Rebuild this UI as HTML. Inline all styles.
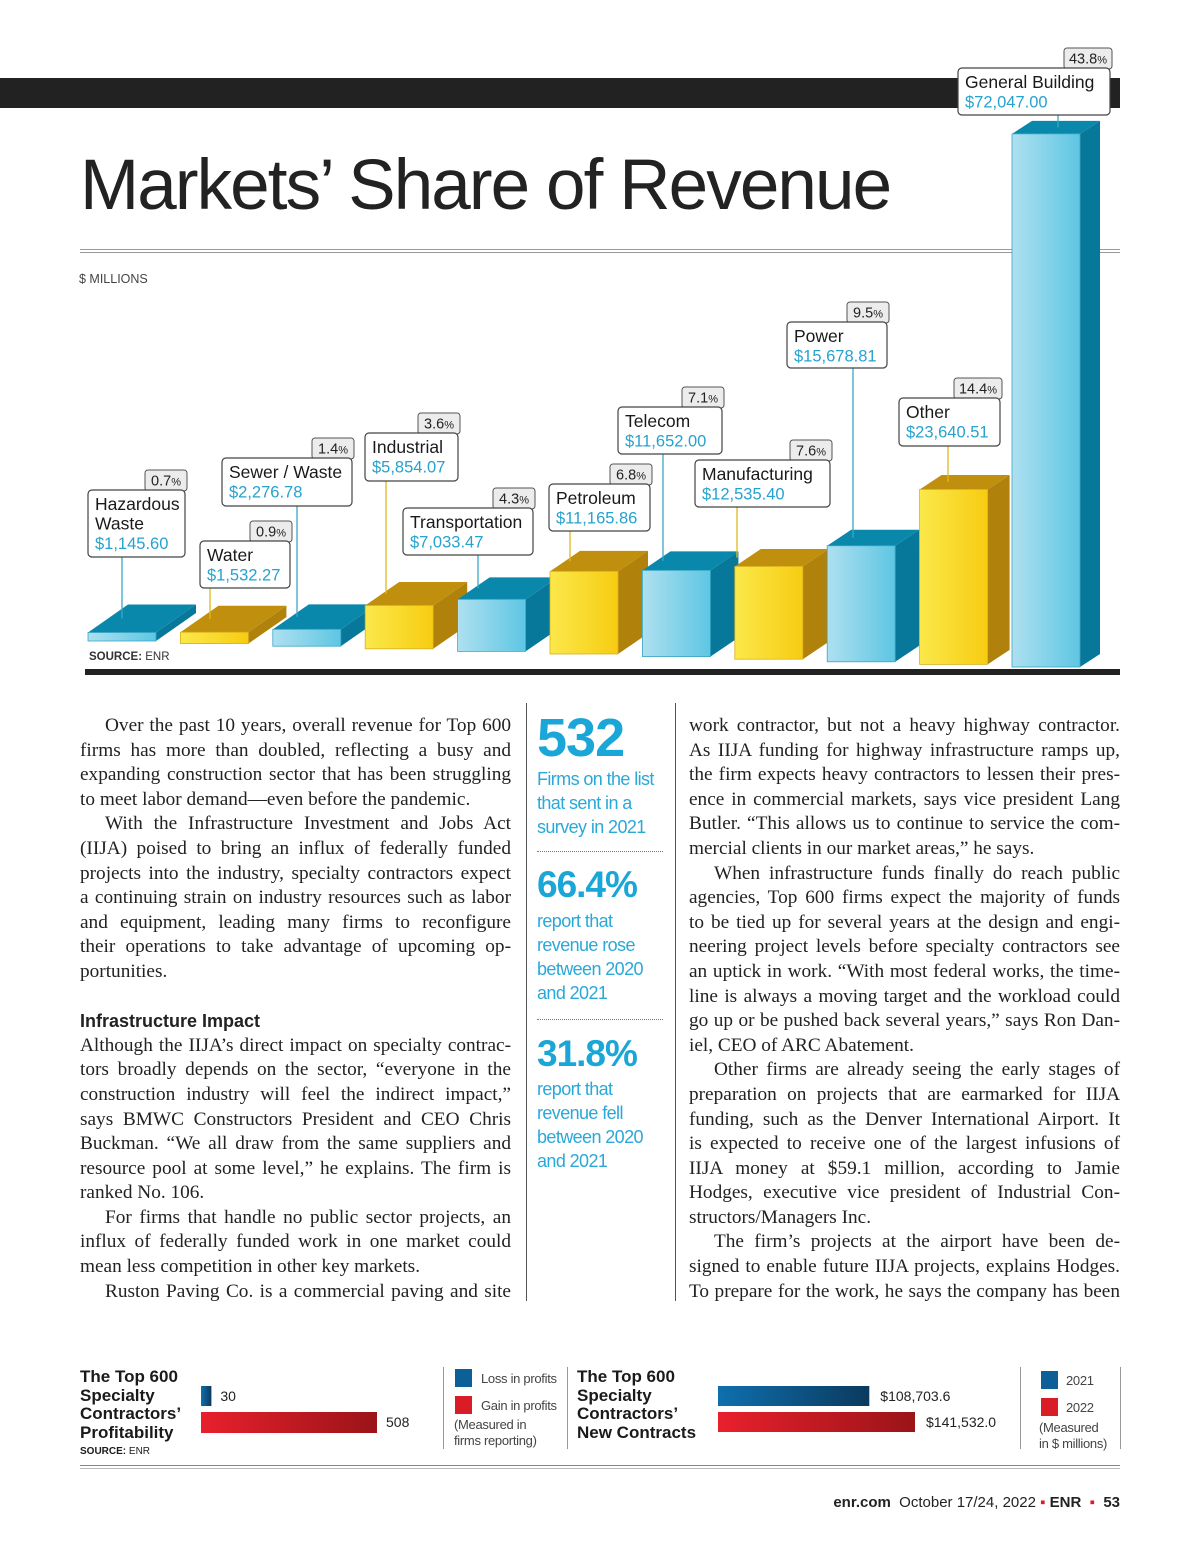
<!DOCTYPE html>
<html><head><meta charset="utf-8">
<style>
body{margin:0;background:#fff;}
#page{position:relative;width:1200px;height:1551px;overflow:hidden;background:#fff;font-family:"Liberation Sans",sans-serif;color:#1a1a1a;}
.abs{position:absolute;}
.col{position:absolute;font-family:"Liberation Serif",serif;font-size:19.3px;line-height:24.6px;color:#222;}
.col div{text-align:justify;text-align-last:justify;white-space:nowrap;}
.col div.l{text-align-last:left;}
.col div.i{text-indent:25px;}
.stat{position:absolute;left:537px;color:#1aa6d6;}
.big{font-weight:bold;letter-spacing:-1px;}
.sm{font-size:18px;line-height:24px;color:#2aa8d8;letter-spacing:-0.6px;}
.dot{position:absolute;left:537px;width:126px;border-top:1px dotted #777;}
.bt{font-weight:bold;font-size:17px;line-height:18.5px;}
.lg{font-size:13px;color:#444;line-height:16px;letter-spacing:-0.3px;}
</style></head><body>
<div id="page">
<div class="abs" style="left:0;top:78px;width:1120px;height:30px;background:#222;"></div>
<div class="abs" style="left:80px;top:146px;font-size:71px;letter-spacing:-1.9px;color:#222;line-height:80px;white-space:nowrap;">Markets’ Share of Revenue</div>
<div class="abs" style="left:80px;top:249px;width:1040px;height:2px;border-top:1px solid #999;border-bottom:1px solid #999;"></div>
<div class="abs" style="left:79px;top:272px;font-size:12.5px;color:#444;">$ MILLIONS</div>
<div class="abs" style="left:89px;top:651px;font-size:11.5px;color:#333;"><b>SOURCE:</b> ENR</div>
<div class="abs" style="left:85px;top:669px;width:1035px;height:6px;background:#222;"></div>

<svg id="chart" class="abs" style="left:0;top:0" width="1200" height="700">
<defs>
<linearGradient id="gb" x1="0" x2="1"><stop offset="0" stop-color="#aee0f0"/><stop offset="1" stop-color="#5ec6e3"/></linearGradient>
<linearGradient id="gy" x1="0" x2="1"><stop offset="0" stop-color="#fbe84a"/><stop offset="1" stop-color="#f7cc12"/></linearGradient>
</defs>
</svg>

<div class="col" style="left:80px;top:714px;width:431px;">
<div class="i">Over the past 10 years, overall revenue for Top 600</div>
<div>firms has more than doubled, reflecting a busy and</div>
<div>expanding construction sector that has been struggling</div>
<div class="l">to meet labor demand—even before the pandemic.</div>
<div class="i">With the Infrastructure Investment and Jobs Act</div>
<div>(IIJA) poised to bring an influx of federally funded</div>
<div>projects into the industry, specialty contractors expect</div>
<div>a continuing strain on industry resources such as labor</div>
<div>and equipment, leading many firms to reconfigure</div>
<div>their operations to take advantage of upcoming op-</div>
<div class="l">portunities.</div>
<div class="l">&nbsp;</div>
<div class="l" style="font-family:'Liberation Sans',sans-serif;font-weight:bold;font-size:18px;">Infrastructure Impact</div>
<div>Although the IIJA’s direct impact on specialty contrac-</div>
<div>tors broadly depends on the sector, “everyone in the</div>
<div>construction industry will feel the indirect impact,”</div>
<div>says BMWC Constructors President and CEO Chris</div>
<div>Buckman. “We all draw from the same suppliers and</div>
<div>resource pool at some level,” he explains. The firm is</div>
<div class="l">ranked No. 106.</div>
<div class="i">For firms that handle no public sector projects, an</div>
<div>influx of federally funded work in one market could</div>
<div class="l">mean less competition in other key markets.</div>
<div class="i">Ruston Paving Co. is a commercial paving and site</div>
</div>
<div class="col" style="left:689px;top:714px;width:431px;">
<div>work contractor, but not a heavy highway contractor.</div>
<div>As IIJA funding for highway infrastructure ramps up,</div>
<div>the firm expects heavy contractors to lessen their pres-</div>
<div>ence in commercial markets, says vice president Lang</div>
<div>Butler. “This allows us to continue to service the com-</div>
<div class="l">mercial clients in our market areas,” he says.</div>
<div class="i">When infrastructure funds finally do reach public</div>
<div>agencies, Top 600 firms expect the majority of funds</div>
<div>to be tied up for several years at the design and engi-</div>
<div>neering project levels before specialty contractors see</div>
<div>an uptick in work. “With most federal works, the time-</div>
<div>line is always a moving target and the workload could</div>
<div>go up or be pushed back several years,” says Ron Dan-</div>
<div class="l">iel, CEO of ARC Abatement.</div>
<div class="i">Other firms are already seeing the early stages of</div>
<div>preparation on projects that are earmarked for IIJA</div>
<div>funding, such as the Denver International Airport. It</div>
<div>is expected to receive one of the largest infusions of</div>
<div>IIJA money at $59.1 million, according to Jamie</div>
<div>Hodges, executive vice president of Industrial Con-</div>
<div class="l">structors/Managers Inc.</div>
<div class="i">The firm’s projects at the airport have been de-</div>
<div>signed to enable future IIJA projects, explains Hodges.</div>
<div>To prepare for the work, he says the company has been</div>
</div>
<div class="abs" style="left:526px;top:703px;width:1px;height:598px;background:#555;"></div>
<div class="abs" style="left:675px;top:703px;width:1px;height:598px;background:#555;"></div>

<div class="stat big" style="top:708px;font-size:54px;line-height:60px;">532</div>
<div class="stat sm" style="top:767px;">Firms on the list<br>that sent in a<br>survey in 2021</div>
<div class="dot" style="top:851px"></div>
<div class="stat big" style="top:862px;font-size:37px;line-height:46px;">66.4%</div>
<div class="stat sm" style="top:909px;">report that<br>revenue rose<br>between 2020<br>and 2021</div>
<div class="dot" style="top:1019px"></div>
<div class="stat big" style="top:1031px;font-size:37px;line-height:46px;">31.8%</div>
<div class="stat sm" style="top:1077px;">report that<br>revenue fell<br>between 2020<br>and 2021</div>

<div class="abs bt" style="left:80px;top:1368px;">The Top 600<br>Specialty<br>Contractors’<br>Profitability</div>
<div class="abs" style="left:80px;top:1446px;font-size:10px;"><b>SOURCE:</b> ENR</div>
<div class="abs" style="left:443px;top:1367px;width:1px;height:82px;background:#999"></div>
<div class="abs" style="left:567px;top:1367px;width:1px;height:82px;background:#999"></div>
<div class="abs" style="left:1020px;top:1367px;width:1px;height:82px;background:#999"></div>
<div class="abs" style="left:1120px;top:1367px;width:1px;height:82px;background:#999"></div>
<div class="abs" style="left:455px;top:1369px;width:17px;height:18px;background:#0d5f98;"></div>
<div class="abs lg" style="left:481px;top:1371px;">Loss in profits</div>
<div class="abs" style="left:455px;top:1396px;width:17px;height:18px;background:#d91d27;"></div>
<div class="abs lg" style="left:481px;top:1398px;">Gain in profits</div>
<div class="abs lg" style="left:454px;top:1417px;">(Measured in<br>firms reporting)</div>
<div class="abs bt" style="left:577px;top:1368px;">The Top 600<br>Specialty<br>Contractors’<br>New Contracts</div>
<div class="abs" style="left:1041px;top:1371px;width:17px;height:18px;background:#0d5f98;"></div>
<div class="abs lg" style="left:1066px;top:1373px;">2021</div>
<div class="abs" style="left:1041px;top:1398px;width:17px;height:18px;background:#d91d27;"></div>
<div class="abs lg" style="left:1066px;top:1400px;">2022</div>
<div class="abs lg" style="left:1039px;top:1420px;">(Measured<br>in $ millions)</div>
<svg id="mini" class="abs" style="left:0;top:1360px" width="1200" height="90">
<defs>
<linearGradient id="mb" x1="0" x2="1"><stop offset="0" stop-color="#0f6fae"/><stop offset="1" stop-color="#0b3a5e"/></linearGradient>
<linearGradient id="mr" x1="0" x2="1"><stop offset="0" stop-color="#e8202c"/><stop offset="1" stop-color="#9a1418"/></linearGradient>
</defs>
</svg>
<div class="abs" style="left:80px;top:1465px;width:1040px;height:2px;border-top:1px solid #888;border-bottom:1px solid #bbb;"></div>
<div class="abs" style="right:80px;top:1494px;font-size:15px;color:#222;white-space:nowrap;"><b>enr.com</b>&nbsp; October 17/24, 2022 <span style="color:#d91d27">▪</span> <b>ENR</b> &nbsp;<span style="color:#d91d27">▪</span>&nbsp; <b>53</b></div>
</div>

<script>
const categories = ["Hazardous Waste","Water","Sewer / Waste","Industrial","Transportation","Petroleum","Telecom","Manufacturing","Power","Other","General Building"];
const revenues = [1145.60,1532.27,2276.78,5854.07,7033.47,11165.86,11652.00,12535.40,15678.81,23640.51,72047.00];
const valueLabels = ["$1,145.60","$1,532.27","$2,276.78","$5,854.07","$7,033.47","$11,165.86","$11,652.00","$12,535.40","$15,678.81","$23,640.51","$72,047.00"];
const shareLabels = ["0.7","0.9","1.4","3.6","4.3","6.8","7.1","7.6","9.5","14.4","43.8"];

const profitCats = ["Loss in profits","Gain in profits"];
const profitValues = [30,508];
const contractYears = ["2021","2022"];
const contractValues = [108703.6,141532.0];
const contractLabels = ["$108,703.6","$141,532.0"];

const NS="http://www.w3.org/2000/svg";
const svg=document.getElementById('chart');
function mk(tag,attrs,parent){const e=document.createElementNS(NS,tag);for(const k in attrs)e.setAttribute(k,attrs[k]);(parent||svg).appendChild(e);return e;}
const yScale=v=>v*0.0074;
const xAt=i=>88+i*92.4;
const baseAt=i=>641+i*2.6;
const boxes=[[88,490,97,67,122],[200,541,90,47,210],[222,458,130,48,297],[365,433,93,48,386],[403,508,130,47,478],[549,484,101,47,570],[618,407,104,47,663],[695,460,135,47,737],[787,322,100,46,853],[899,398,101,48,948],[958,68,152,47,1058]];
const W=68;
categories.forEach((c,i)=>{
  const blue=i%2===0;
  const x=xAt(i), b=baseAt(i), h=Math.max(yScale(revenues[i]),5), t=b-h;
  const dx=40-i*2, dy=28-i*1.5;
  const dark=blue?'#0a88ab':'#c08f0e';
  const side=blue?'#08789a':'#b0820c';
  const bx=boxes[i];
  const g=mk('g',{});
  
  
  mk('polygon',{points:`${x+W},${t} ${x+W+dx},${t-dy} ${x+W+dx},${b-dy} ${x+W},${b}`,fill:side},g);
  mk('polygon',{points:`${x},${t} ${x+dx},${t-dy} ${x+W+dx},${t-dy} ${x+W},${t}`,fill:dark},g);
  mk('rect',{x:x,y:t,width:W,height:h,fill:blue?'url(#gb)':'url(#gy)',stroke:blue?'#3aa6c4':'#d8b020','stroke-width':0.8},g);
  const ll=mk('line',{x1:bx[4],x2:bx[4],y1:bx[1]+bx[3],y2:Math.max(t-dy/2,bx[1]+bx[3]),stroke:blue?'#3aa8c8':'#e0b820','stroke-width':1.3});
  
  
  const pw=shareLabels[i].length>3?48:42, px=bx[0]+bx[2]-pw+2, py=bx[1]-20;
  const pg=mk('g',{});
  
  
  mk('rect',{x:px,y:py,width:pw,height:21,rx:3,fill:'#ececec',stroke:'#555','stroke-width':1},pg);
  const pt=mk('text',{x:px+pw/2,y:py+15.5,'text-anchor':'middle','font-size':14.5,fill:'#222','font-family':'Liberation Sans, sans-serif'},pg);
  pt.textContent=shareLabels[i];
  const ps=mk('tspan',{'font-size':11},pt); ps.textContent='%';
  const lg=mk('g',{});
  
  
  mk('rect',{x:bx[0],y:bx[1],width:bx[2],height:bx[3],rx:4,fill:'#fff',stroke:'#444','stroke-width':1.2},lg);
  const lines=c==="Hazardous Waste"?["Hazardous","Waste"]:[c];
  lines.forEach((s,k)=>{const tt=mk('text',{x:bx[0]+7,y:bx[1]+20+k*19.5,'font-size':17.5,fill:'#1a1a1a','font-family':'Liberation Sans, sans-serif'},lg);tt.textContent=s;});
  const vt=mk('text',{x:bx[0]+7,y:bx[1]+20+lines.length*19.5,'font-size':16.5,fill:'#26a2cf','font-family':'Liberation Sans, sans-serif'},lg);
  vt.textContent=valueLabels[i];
});

const mini=document.getElementById('mini');
function mm(tag,attrs){const e=document.createElementNS(NS,tag);for(const k in attrs)e.setAttribute(k,attrs[k]);mini.appendChild(e);return e;}
const pScale=v=>v*176/508;
profitValues.forEach((v,i)=>{
  const y=26+i*26, hh=i===0?20:21;
  const r=mm('rect',{x:201,y:y,width:pScale(v),height:hh,fill:i===0?'url(#mb)':'url(#mr)'});
  
  
  const t=mm('text',{x:201+pScale(v)+9,y:y+15,'font-size':14,fill:'#222','font-family':'Liberation Sans, sans-serif'});
  t.textContent=String(v);
  
  
});
const cScale=v=>v*197/141532;
contractValues.forEach((v,i)=>{
  const y=26+i*26;
  const r=mm('rect',{x:718,y:y,width:cScale(v),height:20,fill:i===0?'url(#mb)':'url(#mr)'});
  
  
  const t=mm('text',{x:718+cScale(v)+11,y:y+15,'font-size':14,fill:'#222','font-family':'Liberation Sans, sans-serif'});
  t.textContent=contractLabels[i];
  
  
});
</script>
</body></html>
